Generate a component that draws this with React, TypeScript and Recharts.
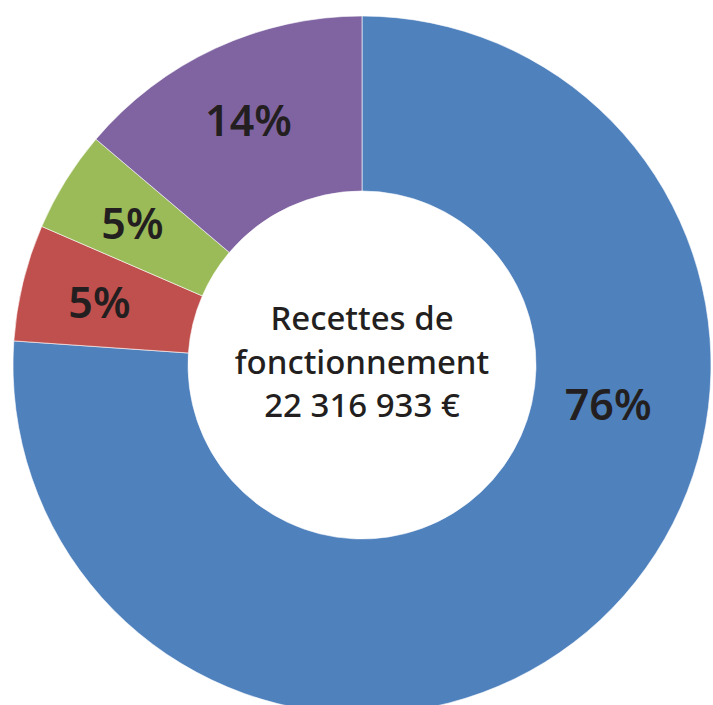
import { PieChart, Pie, Cell } from 'recharts';

// Répartition des recettes de fonctionnement (parts)
const categories = ['Impôts et taxes', 'Produits des services', 'Autres recettes', 'Dotations et participations'];
const shares = [76.1, 5.4, 4.7, 13.8];
const colors = ['#4f81bd', '#c0504d', '#9bbb59', '#8064a2'];
const centerLines = ['Recettes de', 'fonctionnement', '22 316 933 €'];

const data = categories.map((name, i) => ({ name, value: shares[i] }));

const RADIAN = Math.PI / 180;
const FONT = '"Noto Sans", "Open Sans", sans-serif';
const INK = '#231f20';
const CX = 362;
const CY = 365;

function renderPercent(props: any) {
  const { cx, cy, midAngle, innerRadius, outerRadius, percent } = props;
  // la grande part a son étiquette décalée vers la droite, comme dans l'original
  const big = percent > 0.5;
  const angle = big ? midAngle + 38 : midAngle;
  const r = innerRadius + (outerRadius - innerRadius) * (big ? 0.43 : 0.55);
  const x = cx + r * Math.cos(-angle * RADIAN);
  const y = cy + r * Math.sin(-angle * RADIAN);
  return (
    <text
      x={x}
      y={y}
      fill={INK}
      textAnchor="middle"
      dominantBaseline="central"
      style={{ fontFamily: FONT, fontSize: 43, fontWeight: 600 }}
    >
      {`${Math.round(percent * 100)}%`}
    </text>
  );
}

export default function App() {
  return (
    <div style={{ position: 'absolute', left: 0, top: 0, width: 713, height: 705, background: '#fff' }}>
      <PieChart width={713} height={705} margin={{ top: 0, right: 0, bottom: 0, left: 0 }}>
        <Pie
          data={data}
          dataKey="value"
          nameKey="name"
          cx={CX}
          cy={CY}
          innerRadius={174}
          outerRadius={349}
          startAngle={90}
          endAngle={-270}
          stroke="#ffffff"
          strokeWidth={0.6}
          label={renderPercent}
          labelLine={false}
          isAnimationActive={false}
        >
          {data.map((entry, index) => (
            <Cell key={`cell-${entry.name}`} fill={colors[index]} />
          ))}
        </Pie>
      </PieChart>
      <svg
        width={713}
        height={705}
        style={{ position: 'absolute', left: 0, top: 0, pointerEvents: 'none' }}
      >
        <text
          x={CX}
          y={CY}
          fill={INK}
          textAnchor="middle"
          style={{ fontFamily: FONT, fontSize: 33, fontWeight: 500 }}
        >
          {centerLines.map((line, i) => (
            <tspan key={line} x={CX} y={CY - 35 + i * 43.5}>
              {line}
            </tspan>
          ))}
        </text>
      </svg>
    </div>
  );
}
